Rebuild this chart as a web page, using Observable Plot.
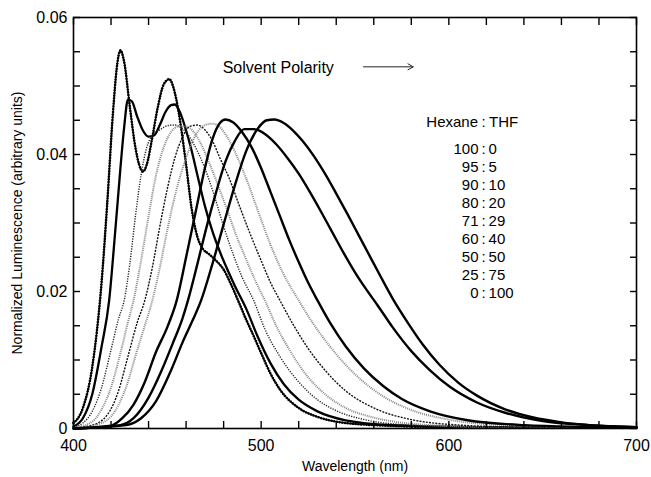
<!DOCTYPE html>
<html><head><meta charset="utf-8">
<script src="https://cdn.jsdelivr.net/npm/d3@7"></script>
<script src="https://cdn.jsdelivr.net/npm/@observablehq/plot@0.6"></script>
<style>html,body{margin:0;padding:0;background:#fff;} svg{display:block;}</style>
</head><body><div id="chart"></div>
<script>
// ---- tick data ----
const xTickLabels = [400, 500, 600, 700];
const xTicks = [400, 420, 440, 460, 480, 500, 520, 540, 560, 580, 600, 620, 640, 660, 680, 700];
const yTickLabels = [0, 0.02, 0.04, 0.06];
const yTicks = [0, 0.005, 0.01, 0.015, 0.02, 0.025, 0.03, 0.035, 0.04, 0.045, 0.05, 0.055, 0.06];

// ---- legend text ----
const hexaneParts = ["100", "95", "90", "80", "71", "60", "50", "25", "0"];
const thfParts = ["0", "5", "10", "20", "29", "40", "50", "75", "100"];

// ---- spectra: [wavelength nm, normalized luminescence] ----
const s100_0 = [[400,0.0008],[405,0.003],[410,0.009],[415,0.0215],[418,0.033],[421,0.046],[423,0.0525],[425,0.0552],[427,0.0535],[430,0.047],[433,0.041],[435,0.0385],[437,0.0375],[439,0.0385],[442,0.0425],[445,0.047],[448,0.0502],[451,0.051],[454,0.049],[457,0.0445],[460,0.0385],[463,0.032],[466,0.028],[469,0.0262],[472,0.0255],[476,0.0245],[480,0.0232],[484,0.021],[488,0.0185],[492,0.0159],[496,0.0135],[500,0.011],[505,0.008],[510,0.0057],[520,0.003],[530,0.0017],[540,0.001],[560,0.0005],[600,0.0002],[700,0.0001]];
const s95_5 = [[400,0.0003],[405,0.0015],[410,0.005],[415,0.012],[419,0.0187],[422,0.028],[425,0.038],[427,0.044],[429,0.048],[431,0.0478],[434,0.0455],[437,0.0435],[440,0.0426],[443,0.0428],[446,0.0443],[449,0.0462],[452,0.0472],[454,0.0473],[457,0.046],[460,0.0435],[463,0.0405],[466,0.037],[470,0.0325],[474,0.0288],[478,0.0258],[482,0.0232],[486,0.0208],[492,0.0175],[498,0.0135],[505,0.0095],[512,0.0065],[520,0.0042],[530,0.0025],[545,0.0012],[570,0.0005],[620,0.0002],[700,0.0001]];
const s90_10 = [[400,0.0002],[405,0.0008],[410,0.0025],[415,0.006],[420,0.0115],[424,0.016],[427,0.0187],[430,0.024],[433,0.031],[436,0.037],[439,0.041],[442,0.0428],[446,0.0436],[450,0.0442],[454,0.0443],[458,0.0438],[462,0.0425],[466,0.0405],[470,0.038],[475,0.034],[480,0.0295],[485,0.0255],[490,0.022],[496,0.0187],[502,0.0145],[510,0.0105],[520,0.0068],[530,0.0042],[540,0.0026],[555,0.0013],[580,0.0005],[620,0.0002],[700,0.0001]];
const s80_20 = [[400,0.0001],[410,0.001],[415,0.0028],[420,0.006],[425,0.011],[429,0.0155],[432,0.0187],[436,0.0245],[440,0.031],[444,0.037],[448,0.041],[452,0.0433],[456,0.0441],[460,0.0441],[464,0.0433],[468,0.0415],[472,0.039],[477,0.0355],[482,0.0318],[487,0.028],[492,0.0247],[497,0.0215],[502,0.0187],[508,0.015],[515,0.0115],[525,0.0075],[535,0.0048],[545,0.003],[560,0.0016],[580,0.0007],[620,0.0002],[700,0.0001]];
const s71_29 = [[400,0.0001],[410,0.0005],[418,0.002],[424,0.0055],[429,0.0105],[434,0.0155],[438,0.0187],[442,0.0235],[446,0.0295],[450,0.035],[454,0.0395],[458,0.0425],[462,0.0441],[466,0.0443],[470,0.0436],[474,0.042],[478,0.0395],[483,0.0365],[488,0.0328],[494,0.0285],[500,0.0245],[505,0.0213],[510,0.0187],[517,0.0152],[525,0.0117],[535,0.0082],[545,0.0055],[560,0.003],[580,0.0013],[600,0.0006],[640,0.0002],[700,0.0001]];
const s60_40 = [[400,0],[415,0.0008],[422,0.0025],[428,0.006],[434,0.0115],[438,0.015],[442,0.0187],[446,0.0235],[450,0.029],[455,0.035],[460,0.0395],[465,0.0428],[470,0.0443],[474,0.0445],[478,0.044],[482,0.0425],[487,0.0398],[492,0.0365],[498,0.032],[505,0.0268],[512,0.0225],[520,0.0187],[528,0.0152],[536,0.0122],[545,0.0093],[555,0.0067],[565,0.0047],[580,0.0027],[600,0.0013],[630,0.0005],[700,0.0001]];
const s50_50 = [[400,0],[420,0.0004],[426,0.0015],[432,0.0035],[438,0.0068],[444,0.0112],[450,0.0148],[455,0.0187],[460,0.025],[465,0.0315],[470,0.038],[474,0.0422],[478,0.0446],[481,0.0451],[485,0.0447],[490,0.0432],[495,0.041],[500,0.038],[505,0.0345],[510,0.031],[515,0.0275],[520,0.0243],[525,0.0213],[530,0.0187],[537,0.0153],[545,0.012],[555,0.0087],[565,0.0062],[575,0.0043],[590,0.0025],[610,0.0012],[640,0.0005],[700,0.0001]];
const s25_75 = [[400,0],[425,0.0005],[432,0.0015],[440,0.0045],[447,0.0085],[453,0.0125],[458,0.016],[461,0.0187],[466,0.024],[471,0.0295],[476,0.0345],[481,0.039],[486,0.042],[491,0.0437],[496,0.0437],[502,0.043],[508,0.0415],[514,0.0395],[520,0.0372],[526,0.0345],[532,0.0316],[538,0.0286],[544,0.0256],[550,0.0228],[556,0.0203],[562,0.018],[570,0.0148],[580,0.0113],[590,0.0085],[600,0.0062],[615,0.0038],[630,0.0023],[650,0.0011],[675,0.0005],[700,0.0002]];
const s0_100 = [[400,0],[428,0.0005],[436,0.0015],[444,0.004],[452,0.0085],[458,0.0125],[463,0.0155],[468,0.0187],[474,0.024],[480,0.0298],[486,0.0355],[492,0.0405],[498,0.0437],[503,0.045],[507,0.0451],[512,0.0446],[517,0.0435],[522,0.042],[528,0.0398],[534,0.0372],[540,0.0343],[546,0.0313],[552,0.0282],[558,0.0251],[564,0.022],[570,0.019],[578,0.0155],[586,0.0123],[595,0.0093],[605,0.0067],[615,0.0048],[630,0.0028],[645,0.0016],[660,0.0009],[680,0.0004],[700,0.0002]];

// ---- annotation anchors (data units) ----
const arrowText = ["Solvent Polarity"];
const arrowTextAt = [479.5, 0.0527];
const arrowFrom = [554.5, 0.0528];
const arrowTo = [581, 0.0528];
const legendTitle = ["Hexane", "THF"];
const legendColonX = 618.5;
const legendTitleY = 0.04467;
const legendTopY = 0.04073;
const legendStepY = 0.002618;

// ---- styles ----
const spectra = [
  {pts: s100_0, stroke: "#000", width: 2.6, dash: "0.1,2.6", cap: "round"},
  {pts: s95_5, stroke: "#000", width: 2.3, dash: null, cap: "round"},
  {pts: s90_10, stroke: "#222", width: 1.4, dash: "1.2,1.3", cap: "butt"},
  {pts: s80_20, stroke: "#888", width: 2, dash: "1,1", cap: "butt"},
  {pts: s71_29, stroke: "#111", width: 1.4, dash: "2,1.2", cap: "butt"},
  {pts: s60_40, stroke: "#888", width: 2, dash: "1,1", cap: "butt"},
  {pts: s50_50, stroke: "#000", width: 2.4, dash: null, cap: "round"},
  {pts: s25_75, stroke: "#000", width: 2.4, dash: null, cap: "round"},
  {pts: s0_100, stroke: "#000", width: 2.4, dash: null, cap: "round"}
];

const lineMarks = spectra.flatMap(s => {
  const marks = [Plot.line(s.pts, {
    x: d => d[0], y: d => d[1], curve: "monotone-x",
    stroke: s.stroke, strokeWidth: s.width, strokeDasharray: s.dash, strokeLinecap: s.cap
  })];
  if (s.cap === "round" && s.dash) {
    // thin connecting line under the dotted chain
    marks.unshift(Plot.line(s.pts, {x: d => d[0], y: d => d[1], curve: "monotone-x", stroke: s.stroke, strokeWidth: 1}));
  }
  return marks;
});

const rows = hexaneParts.map((h, i) => ({h, t: thfParts[i], y: legendTopY - i * legendStepY}));

const font = "'Liberation Sans', Arial, Helvetica, sans-serif";

const chart = Plot.plot({
  width: 651, height: 477,
  marginLeft: 73, marginRight: 15, marginTop: 17, marginBottom: 49,
  style: {fontFamily: font, background: "#fff", color: "#000"},
  x: {domain: [400, 700]},
  y: {domain: [0, 0.06]},
  marks: [
    ...lineMarks,
    Plot.frame({stroke: "#000", strokeWidth: 1.6}),
    Plot.axisX(xTicks, {anchor: "bottom", tickSize: -7, text: null, strokeWidth: 1.4, label: null}),
    Plot.axisX(xTicks, {anchor: "top", tickSize: -7, text: null, strokeWidth: 1.4, label: null}),
    Plot.axisY(yTicks, {anchor: "left", tickSize: -7, text: null, strokeWidth: 1.4, label: null}),
    Plot.axisY(yTicks, {anchor: "right", tickSize: -7, text: null, strokeWidth: 1.4, label: null}),
    Plot.axisX(xTickLabels, {anchor: "bottom", tickSize: 0, tickPadding: 11, fontSize: 16, label: null}),
    Plot.axisY(yTickLabels, {anchor: "left", tickSize: 0, tickPadding: 6, fontSize: 16, label: null,
      tickFormat: d => d === 0 ? "0" : d3.format(".2f")(d)}),
    Plot.text(["Wavelength (nm)"], {frameAnchor: "bottom", dy: 38, fontSize: 14, lineAnchor: "middle"}),
    Plot.text(["Normalized Luminescence (arbitrary units)"], {frameAnchor: "left", dx: -56, rotate: -90, fontSize: 14, textAnchor: "middle", lineAnchor: "middle"}),
    Plot.text(arrowText, {x: arrowTextAt[0], y: arrowTextAt[1], textAnchor: "start", fontSize: 16}),
    Plot.arrow([0], {x1: arrowFrom[0], y1: arrowFrom[1], x2: arrowTo[0], y2: arrowTo[1], stroke: "#222", strokeWidth: 1, headLength: 9}),
    Plot.text([legendTitle[0]], {x: legendColonX, y: legendTitleY, dx: -5.5, textAnchor: "end", fontSize: 15}),
    Plot.text([":"], {x: legendColonX, y: legendTitleY, textAnchor: "middle", fontSize: 15}),
    Plot.text([legendTitle[1]], {x: legendColonX, y: legendTitleY, dx: 5.5, textAnchor: "start", fontSize: 15}),
    Plot.text(rows, {x: legendColonX, y: "y", text: "h", dx: -5, textAnchor: "end", fontSize: 15}),
    Plot.text(rows, {x: legendColonX, y: "y", text: () => ":", textAnchor: "middle", fontSize: 15}),
    Plot.text(rows, {x: legendColonX, y: "y", text: "t", dx: 5, textAnchor: "start", fontSize: 15})
  ]
});
document.getElementById("chart").appendChild(chart);
</script>
</body></html>
